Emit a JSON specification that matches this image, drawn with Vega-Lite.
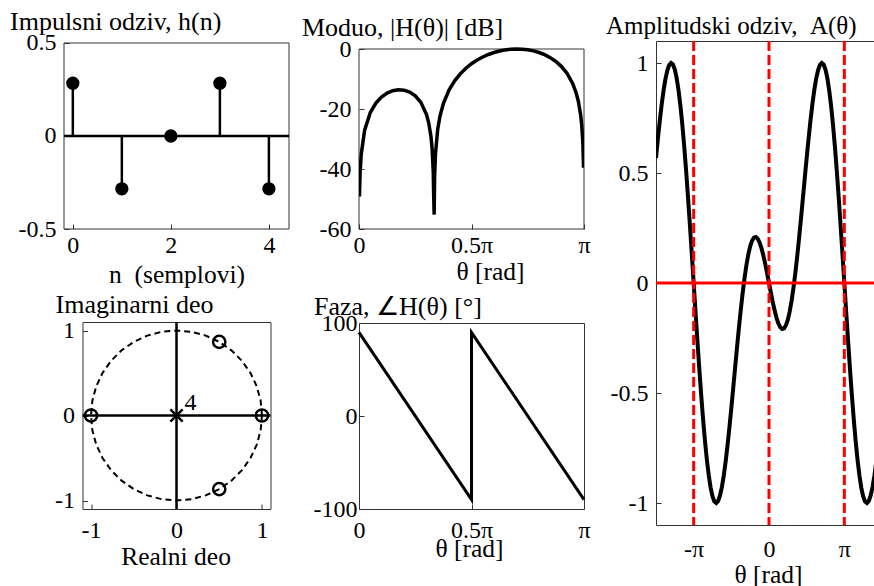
{
  "$schema": "https://vega.github.io/schema/vega-lite/v6.json",
  "background": "white",
  "padding": {"left": 10, "top": 8, "right": 0, "bottom": 0},
  "config": {
    "font": "Liberation Serif, Times New Roman, Times, serif",
    "view": {"stroke": "#333333", "strokeWidth": 1},
    "axis": {
      "grid": false, "domain": false, "ticks": true, "tickSize": -5, "tickColor": "#333333", "tickWidth": 1,
      "labelFont": "Liberation Serif, Times New Roman, Times, serif", "labelFontSize": 24, "labelColor": "black",
      "titleFont": "Liberation Serif, Times New Roman, Times, serif", "titleFontSize": 25.5, "titleFontWeight": "normal", "titleColor": "black",
      "labelAngle": 0, "labelOverlap": false, "labelFlush": false
    },
    "axisY": {"labelPadding": 13, "labelBaseline": "middle", "labelAlign": "right"},
    "axisX": {"labelPadding": 21, "labelBaseline": "middle", "titleBaseline": "alphabetic"},
    "title": {"font": "Liberation Serif, Times New Roman, Times, serif", "fontSize": 26, "fontWeight": "normal", "color": "black", "anchor": "start", "frame": "group", "baseline": "alphabetic"},
    "text": {"font": "Liberation Serif, Times New Roman, Times, serif"}
  },
  "datasets": {
    "h": [{"n": 0, "h": 0.284}, {"n": 1, "h": -0.284}, {"n": 2, "h": 0}, {"n": 3, "h": 0.284}, {"n": 4, "h": -0.284}],
    "mag": [
      {"t": 0.00195, "db": -49.15}, {"t": 0.005, "db": -40.99}, {"t": 0.01, "db": -34.98}, {"t": 0.025, "db": -27.07},
      {"t": 0.05, "db": -21.24}, {"t": 0.075, "db": -18.04}, {"t": 0.1, "db": -16.01}, {"t": 0.125, "db": -14.69},
      {"t": 0.15, "db": -13.91}, {"t": 0.175, "db": -13.58}, {"t": 0.2, "db": -13.71}, {"t": 0.225, "db": -14.33},
      {"t": 0.25, "db": -15.58}, {"t": 0.275, "db": -17.78}, {"t": 0.3, "db": -21.86}, {"t": 0.31, "db": -24.68},
      {"t": 0.32, "db": -29.28}, {"t": 0.325, "db": -33.23}, {"t": 0.33, "db": -41.07}, {"t": 0.33203, "db": -49.15},
      {"t": 0.33398, "db": -55.2}, {"t": 0.336, "db": -42.93}, {"t": 0.34, "db": -34.81}, {"t": 0.35, "db": -26.64},
      {"t": 0.36, "db": -22.35}, {"t": 0.375, "db": -18.19}, {"t": 0.4, "db": -13.71}, {"t": 0.425, "db": -10.62},
      {"t": 0.45, "db": -8.28}, {"t": 0.475, "db": -6.42}, {"t": 0.5, "db": -4.91}, {"t": 0.525, "db": -3.67},
      {"t": 0.55, "db": -2.65}, {"t": 0.575, "db": -1.83}, {"t": 0.6, "db": -1.17}, {"t": 0.625, "db": -0.66},
      {"t": 0.65, "db": -0.3}, {"t": 0.675, "db": -0.08}, {"t": 0.7, "db": 0}, {"t": 0.725, "db": -0.06},
      {"t": 0.75, "db": -0.27}, {"t": 0.775, "db": -0.63}, {"t": 0.8, "db": -1.17}, {"t": 0.825, "db": -1.9},
      {"t": 0.85, "db": -2.88}, {"t": 0.875, "db": -4.16}, {"t": 0.9, "db": -5.86}, {"t": 0.925, "db": -8.17},
      {"t": 0.95, "db": -11.55}, {"t": 0.965, "db": -14.6}, {"t": 0.975, "db": -17.49}, {"t": 0.985, "db": -21.91},
      {"t": 0.99, "db": -25.43}, {"t": 0.995, "db": -31.45}, {"t": 0.998, "db": -39.6}
    ],
    "phase": [{"t": 0, "deg": 90, "k": 0}, {"t": 0.5, "deg": -90, "k": 1}, {"t": 0.5, "deg": 90, "k": 2}, {"t": 1, "deg": -90, "k": 3}],
    "circle": [
      {"k": 0, "re": 1, "im": 0}, {"k": 1, "re": 0.98481, "im": 0.17365}, {"k": 2, "re": 0.93969, "im": 0.34202},
      {"k": 3, "re": 0.86603, "im": 0.5}, {"k": 4, "re": 0.76604, "im": 0.64279}, {"k": 5, "re": 0.64279, "im": 0.76604},
      {"k": 6, "re": 0.5, "im": 0.86603}, {"k": 7, "re": 0.34202, "im": 0.93969}, {"k": 8, "re": 0.17365, "im": 0.98481},
      {"k": 9, "re": 0, "im": 1}, {"k": 10, "re": -0.17365, "im": 0.98481}, {"k": 11, "re": -0.34202, "im": 0.93969},
      {"k": 12, "re": -0.5, "im": 0.86603}, {"k": 13, "re": -0.64279, "im": 0.76604}, {"k": 14, "re": -0.76604, "im": 0.64279},
      {"k": 15, "re": -0.86603, "im": 0.5}, {"k": 16, "re": -0.93969, "im": 0.34202}, {"k": 17, "re": -0.98481, "im": 0.17365},
      {"k": 18, "re": -1, "im": 0}, {"k": 19, "re": -0.98481, "im": -0.17365}, {"k": 20, "re": -0.93969, "im": -0.34202},
      {"k": 21, "re": -0.86603, "im": -0.5}, {"k": 22, "re": -0.76604, "im": -0.64279}, {"k": 23, "re": -0.64279, "im": -0.76604},
      {"k": 24, "re": -0.5, "im": -0.86603}, {"k": 25, "re": -0.34202, "im": -0.93969}, {"k": 26, "re": -0.17365, "im": -0.98481},
      {"k": 27, "re": 0, "im": -1}, {"k": 28, "re": 0.17365, "im": -0.98481}, {"k": 29, "re": 0.34202, "im": -0.93969},
      {"k": 30, "re": 0.5, "im": -0.86603}, {"k": 31, "re": 0.64279, "im": -0.76604}, {"k": 32, "re": 0.76604, "im": -0.64279},
      {"k": 33, "re": 0.86603, "im": -0.5}, {"k": 34, "re": 0.93969, "im": -0.34202}, {"k": 35, "re": 0.98481, "im": -0.17365},
      {"k": 36, "re": 1, "im": 0}
    ],
    "zeros": [{"re": 1, "im": 0}, {"re": -1, "im": 0}, {"re": 0.5, "im": 0.86603}, {"re": 0.5, "im": -0.86603}],
    "poles": [{"re": 0, "im": 0, "mult": "4"}],
    "vlines": [{"t": -1}, {"t": 0}, {"t": 1}],
    "amp": [
      {"t": -1.5, "a": 0.56813}, {"t": -1.475, "a": 0.65525}, {"t": -1.45, "a": 0.7367}, {"t": -1.425, "a": 0.81036},
      {"t": -1.4, "a": 0.87427}, {"t": -1.375, "a": 0.92661}, {"t": -1.35, "a": 0.96583}, {"t": -1.325, "a": 0.99061},
      {"t": -1.3, "a": 0.99995}, {"t": -1.275, "a": 0.99314}, {"t": -1.25, "a": 0.96985}, {"t": -1.225, "a": 0.9301},
      {"t": -1.2, "a": 0.87427}, {"t": -1.175, "a": 0.80306}, {"t": -1.15, "a": 0.71755}, {"t": -1.125, "a": 0.61914},
      {"t": -1.1, "a": 0.5095}, {"t": -1.075, "a": 0.39055}, {"t": -1.05, "a": 0.26444}, {"t": -1.025, "a": 0.13345},
      {"t": -1, "a": 0}, {"t": -0.975, "a": -0.13345}, {"t": -0.95, "a": -0.26444}, {"t": -0.925, "a": -0.39055},
      {"t": -0.9, "a": -0.5095}, {"t": -0.875, "a": -0.61914}, {"t": -0.85, "a": -0.71755}, {"t": -0.825, "a": -0.80306},
      {"t": -0.8, "a": -0.87427}, {"t": -0.775, "a": -0.9301}, {"t": -0.75, "a": -0.96985}, {"t": -0.725, "a": -0.99314},
      {"t": -0.7, "a": -0.99995}, {"t": -0.675, "a": -0.99061}, {"t": -0.65, "a": -0.96583}, {"t": -0.625, "a": -0.92661},
      {"t": -0.6, "a": -0.87427}, {"t": -0.575, "a": -0.81036}, {"t": -0.55, "a": -0.7367}, {"t": -0.525, "a": -0.65525},
      {"t": -0.5, "a": -0.56813}, {"t": -0.475, "a": -0.4775}, {"t": -0.45, "a": -0.38557}, {"t": -0.425, "a": -0.29451},
      {"t": -0.4, "a": -0.20638}, {"t": -0.375, "a": -0.12315}, {"t": -0.35, "a": -0.04658}, {"t": -0.325, "a": 0.0218},
      {"t": -0.3, "a": 0.0807}, {"t": -0.275, "a": 0.12912}, {"t": -0.25, "a": 0.1664}, {"t": -0.225, "a": 0.19216},
      {"t": -0.2, "a": 0.20638}, {"t": -0.175, "a": 0.20936}, {"t": -0.15, "a": 0.2017}, {"t": -0.125, "a": 0.18432},
      {"t": -0.1, "a": 0.15838}, {"t": -0.075, "a": 0.12529}, {"t": -0.05, "a": 0.08669}, {"t": -0.025, "a": 0.0443},
      {"t": 0, "a": 0}, {"t": 0.025, "a": -0.0443}, {"t": 0.05, "a": -0.08669}, {"t": 0.075, "a": -0.12529},
      {"t": 0.1, "a": -0.15838}, {"t": 0.125, "a": -0.18432}, {"t": 0.15, "a": -0.2017}, {"t": 0.175, "a": -0.20936},
      {"t": 0.2, "a": -0.20638}, {"t": 0.225, "a": -0.19216}, {"t": 0.25, "a": -0.1664}, {"t": 0.275, "a": -0.12912},
      {"t": 0.3, "a": -0.0807}, {"t": 0.325, "a": -0.0218}, {"t": 0.35, "a": 0.04658}, {"t": 0.375, "a": 0.12315},
      {"t": 0.4, "a": 0.20638}, {"t": 0.425, "a": 0.29451}, {"t": 0.45, "a": 0.38557}, {"t": 0.475, "a": 0.4775},
      {"t": 0.5, "a": 0.56813}, {"t": 0.525, "a": 0.65525}, {"t": 0.55, "a": 0.7367}, {"t": 0.575, "a": 0.81036},
      {"t": 0.6, "a": 0.87427}, {"t": 0.625, "a": 0.92661}, {"t": 0.65, "a": 0.96583}, {"t": 0.675, "a": 0.99061},
      {"t": 0.7, "a": 0.99995}, {"t": 0.725, "a": 0.99314}, {"t": 0.75, "a": 0.96985}, {"t": 0.775, "a": 0.9301},
      {"t": 0.8, "a": 0.87427}, {"t": 0.825, "a": 0.80306}, {"t": 0.85, "a": 0.71755}, {"t": 0.875, "a": 0.61914},
      {"t": 0.9, "a": 0.5095}, {"t": 0.925, "a": 0.39055}, {"t": 0.95, "a": 0.26444}, {"t": 0.975, "a": 0.13345},
      {"t": 1, "a": 0}, {"t": 1.025, "a": -0.13345}, {"t": 1.05, "a": -0.26444}, {"t": 1.075, "a": -0.39055},
      {"t": 1.1, "a": -0.5095}, {"t": 1.125, "a": -0.61914}, {"t": 1.15, "a": -0.71755}, {"t": 1.175, "a": -0.80306},
      {"t": 1.2, "a": -0.87427}, {"t": 1.225, "a": -0.9301}, {"t": 1.25, "a": -0.96985}, {"t": 1.275, "a": -0.99314},
      {"t": 1.3, "a": -0.99995}, {"t": 1.325, "a": -0.99061}, {"t": 1.35, "a": -0.96583}, {"t": 1.375, "a": -0.92661},
      {"t": 1.4, "a": -0.87427}, {"t": 1.425, "a": -0.81036}, {"t": 1.45, "a": -0.7367}, {"t": 1.475, "a": -0.65525},
      {"t": 1.5, "a": -0.56813}
    ]
  },
  "concat": [
    {
      "concat": [
        {
          "vconcat": [
            {
              "width": 225, "height": 188,
              "view": {"stroke": null},
              "title": {"text": "Impulsni odziv, h(n)", "dx": -54, "offset": -4},
              "layer": [
                {
                  "data": {"values": [{}]},
                  "mark": {"type": "rect", "filled": false, "color": "#333333", "strokeWidth": 1},
                  "encoding": {
                    "x": {"datum": -0.18, "type": "quantitative"}, "x2": {"datum": 4.41},
                    "y": {"datum": -0.5, "type": "quantitative"}, "y2": {"datum": 0.5}
                  }
                },
                {
                  "data": {"values": [{}]},
                  "mark": {"type": "rule", "color": "black", "strokeWidth": 2.5},
                  "encoding": {"y": {"datum": 0, "type": "quantitative"}}
                },
                {
                  "data": {"name": "h"},
                  "mark": {"type": "rule", "color": "black", "strokeWidth": 2.5},
                  "encoding": {
                    "x": {"field": "n", "type": "quantitative", "scale": {"domain": [-0.18, 4.41], "nice": false, "zero": false},
                          "axis": {"values": [0, 2, 4], "title": "n\u00a0 (semplovi)", "titleY": 53}},
                    "y": {"field": "h", "type": "quantitative", "scale": {"domain": [-0.5, 0.51075], "nice": false},
                          "axis": {"values": [-0.5, 0, 0.5], "labelExpr": "'' + datum.value", "title": null}},
                    "y2": {"datum": 0}
                  }
                },
                {
                  "data": {"name": "h"},
                  "mark": {"type": "circle", "color": "black", "opacity": 1, "size": 177},
                  "encoding": {
                    "x": {"field": "n", "type": "quantitative"},
                    "y": {"field": "h", "type": "quantitative"}
                  }
                }
              ]
            },
            {
              "width": 188, "height": 187,
              "title": {"text": "Imaginarni deo", "dx": -27, "offset": 1},
              "layer": [
                {
                  "data": {"name": "circle"},
                  "mark": {"type": "line", "color": "black", "strokeWidth": 2, "strokeDash": [6, 4]},
                  "encoding": {
                    "x": {"field": "re", "type": "quantitative", "scale": {"domain": [-1.1, 1.1], "nice": false},
                          "axis": {"values": [-1, 0, 1], "labelExpr": "'' + datum.value", "title": "Realni deo", "titleX": 93, "titleY": 55, "labelPadding": 26}},
                    "y": {"field": "im", "type": "quantitative", "scale": {"domain": [-1.1, 1.1], "nice": false},
                          "axis": {"values": [-1, 0, 1], "labelExpr": "'' + datum.value", "title": null}},
                    "order": {"field": "k", "type": "quantitative"}
                  }
                },
                {
                  "data": {"values": [{}]},
                  "mark": {"type": "rule", "color": "black", "strokeWidth": 2.5},
                  "encoding": {"y": {"datum": 0, "type": "quantitative"}}
                },
                {
                  "data": {"values": [{}]},
                  "mark": {"type": "rule", "color": "black", "strokeWidth": 2.5},
                  "encoding": {"x": {"datum": 0, "type": "quantitative"}}
                },
                {
                  "data": {"name": "zeros"},
                  "mark": {"type": "point", "shape": "circle", "filled": false, "color": "black", "strokeWidth": 2.5, "size": 150, "opacity": 1},
                  "encoding": {
                    "x": {"field": "re", "type": "quantitative"},
                    "y": {"field": "im", "type": "quantitative"}
                  }
                },
                {
                  "data": {"name": "poles"},
                  "mark": {"type": "point", "shape": "M-1,-1L1,1M-1,1L1,-1", "filled": false, "color": "black", "strokeWidth": 2.5, "size": 150, "opacity": 1},
                  "encoding": {
                    "x": {"field": "re", "type": "quantitative"},
                    "y": {"field": "im", "type": "quantitative"}
                  }
                },
                {
                  "data": {"name": "poles"},
                  "mark": {"type": "text", "align": "left", "baseline": "alphabetic", "fontSize": 24, "dx": 8, "dy": -6, "color": "black"},
                  "encoding": {
                    "x": {"field": "re", "type": "quantitative"},
                    "y": {"field": "im", "type": "quantitative"},
                    "text": {"field": "mult"}
                  }
                }
              ]
            }
          ],
          "spacing": 93, "bounds": "flush", "center": true
        },
        {
          "vconcat": [
            {
              "width": 225, "height": 188,
              "view": {"stroke": null},
              "title": {"text": "Moduo, |H(θ)| [dB]", "dx": -57, "offset": -4},
              "layer": [
                {
                  "data": {"values": [{}]},
                  "mark": {"type": "rect", "filled": false, "color": "#333333", "strokeWidth": 1},
                  "encoding": {
                    "x": {"datum": 0, "type": "quantitative"}, "x2": {"datum": 1},
                    "y": {"datum": -60, "type": "quantitative"}, "y2": {"datum": 0}
                  }
                },
                {
                  "data": {"name": "mag"},
                  "mark": {"type": "line", "color": "black", "strokeWidth": 3.5, "clip": true},
                  "encoding": {
                    "x": {"field": "t", "type": "quantitative", "scale": {"domain": [0, 1], "nice": false},
                          "axis": {"values": [0, 0.5, 1], "labelExpr": "datum.value == 0 ? '0' : datum.value == 1 ? 'π' : '0.5π'", "title": "θ [rad]", "titleX": 131, "titleY": 50}},
                    "y": {"field": "db", "type": "quantitative", "scale": {"domain": [-60, 2.667], "nice": false},
                          "axis": {"values": [-60, -40, -20, 0], "labelExpr": "'' + datum.value", "title": null}}
                  }
                }
              ]
            },
            {
              "width": 225, "height": 186,
              "title": {"text": "Faza, ∠H(θ) [°]", "dx": -45, "offset": -8.5},
              "data": {"name": "phase"},
              "mark": {"type": "line", "color": "black", "strokeWidth": 3},
              "encoding": {
                "x": {"field": "t", "type": "quantitative", "scale": {"domain": [0, 1], "nice": false},
                      "axis": {"values": [0, 0.5, 1], "labelExpr": "datum.value == 0 ? '0' : datum.value == 1 ? 'π' : '0.5π'", "title": "θ [rad]", "titleX": 110, "titleY": 47, "labelPadding": 26}},
                "y": {"field": "deg", "type": "quantitative", "scale": {"domain": [-100, 100], "nice": false},
                      "axis": {"values": [-100, 0, 100], "labelExpr": "'' + datum.value", "title": null, "labelPadding": 7}},
                "order": {"field": "k", "type": "quantitative"}
              }
            }
          ],
          "spacing": 94, "bounds": "flush"
        }
      ],
      "columns": 2, "align": "none", "spacing": 11
    },
    {
      "vconcat": [
        {
          "width": 226, "height": 484,
          "title": {"text": "Amplitudski odziv,\u00a0\u00a0A(θ)", "dx": -50, "offset": 1, "fontSize": 25},
          "layer": [
            {
              "data": {"name": "amp"},
              "mark": {"type": "line", "color": "black", "strokeWidth": 4, "clip": true},
              "encoding": {
                "x": {"field": "t", "type": "quantitative", "scale": {"domain": [-1.5, 1.5], "nice": false, "zero": false},
                      "axis": {"values": [-1, 0, 1], "labelExpr": "datum.value == 0 ? '0' : datum.value < 0 ? '-π' : 'π'", "title": "θ [rad]", "titleX": 112, "titleY": 57, "labelPadding": 29}},
                "y": {"field": "a", "type": "quantitative", "scale": {"domain": [-1.1, 1.1], "nice": false},
                      "axis": {"values": [-1, -0.5, 0, 0.5, 1], "labelExpr": "'' + datum.value", "title": null}}
              }
            },
            {
              "data": {"values": [{}]},
              "mark": {"type": "rule", "color": "#ff0000", "strokeWidth": 3},
              "encoding": {"y": {"datum": 0, "type": "quantitative"}}
            },
            {
              "data": {"name": "vlines"},
              "mark": {"type": "rule", "color": "#ff0000", "strokeWidth": 3, "strokeDash": [10, 4]},
              "encoding": {"x": {"field": "t", "type": "quantitative"}}
            }
          ]
        }
      ],
      "bounds": "flush"
    }
  ],
  "columns": 2, "align": "none", "spacing": 14
}
